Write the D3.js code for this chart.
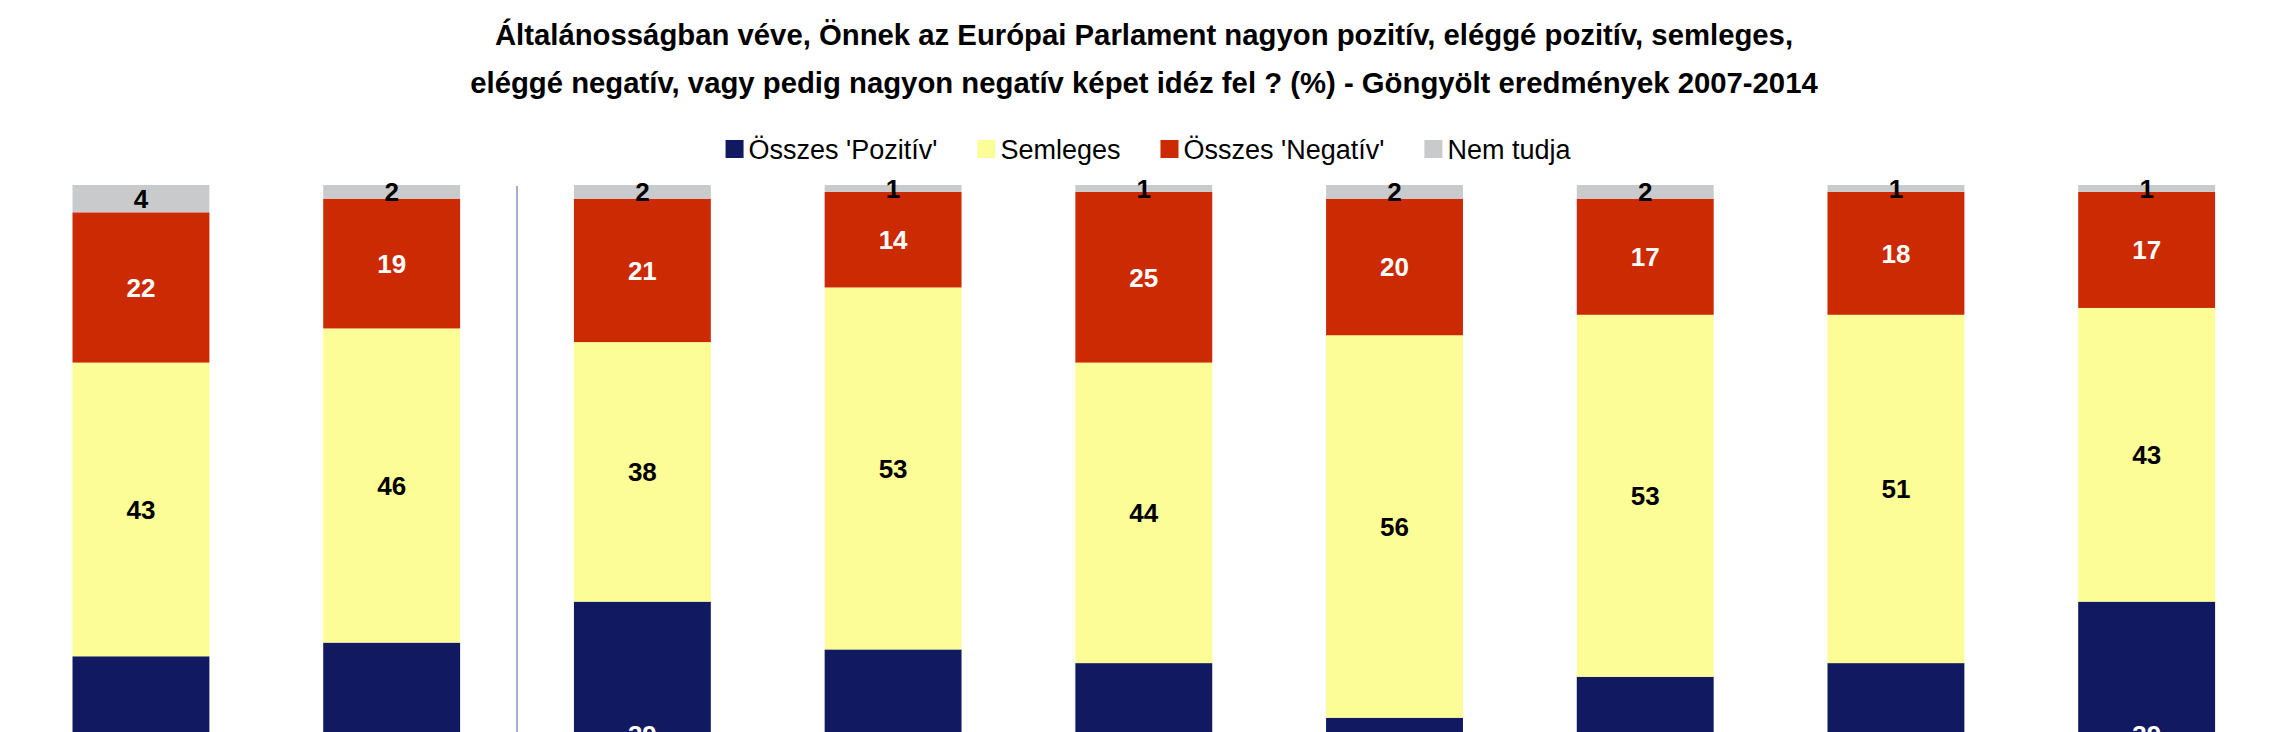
<!DOCTYPE html>
<html>
<head>
<meta charset="utf-8">
<script src="https://cdn.jsdelivr.net/npm/d3@7"></script>
<style>
  html, body { margin: 0; padding: 0; background: #ffffff; overflow: hidden; }
  svg { display: block; font-family: "Liberation Sans", Arial, sans-serif; }
</style>
</head>
<body>
<svg id="chart" width="2289" height="900"></svg>
<script>
// ---- Data ----
const titleLines = [
  "Általánosságban véve, Önnek az Európai Parlament nagyon pozitív, eléggé pozitív, semleges,",
  "eléggé negatív, vagy pedig nagyon negatív képet idéz fel ? (%) - Göngyölt eredmények 2007-2014"
];
const categories = ["c1", "c2", "c3", "c4", "c5", "c6", "c7", "c8", "c9"];
const seriesNames = ["Összes 'Pozitív'", "Semleges", "Összes 'Negatív'", "Nem tudja"];
const pozitiv  = [31, 33, 39, 32, 30, 22, 28, 30, 39];
const semleges = [43, 46, 38, 53, 44, 56, 53, 51, 43];
const negativ  = [22, 19, 21, 14, 25, 20, 17, 18, 17];
const nemTudja = [4, 2, 2, 1, 1, 2, 2, 1, 1];
const seriesColors = ["#111a60", "#fdfd97", "#cb2a03", "#c9cacc"];
const labelColors = ["#ffffff", "#000000", "#ffffff", "#000000"];
const dividerAfterIndex = 1;

// ---- Build table ----
const seriesValues = [pozitiv, semleges, negativ, nemTudja];
const keys = ["pozitiv", "semleges", "negativ", "nemtudja"];
const table = categories.map((c, i) => {
  const row = { cat: c };
  keys.forEach((k, j) => row[k] = seriesValues[j][i]);
  return row;
});

const svg = d3.select("#chart");

// ---- Scales ----
const x = d3.scaleBand().domain(categories).range([15.6, 2272]).paddingInner(0.454).paddingOuter(0.227);
const y = d3.scaleLinear().domain([0, 100]).range([868, 185]);
const color = d3.scaleOrdinal().domain(keys).range(seriesColors);
const lblColor = d3.scaleOrdinal().domain(keys).range(labelColors);

const stack = d3.stack().keys(keys);
const stacked = stack(table);

// ---- Title ----
const title = svg.append("g").attr("class", "title");
titleLines.forEach((t, i) => {
  title.append("text")
    .attr("x", 1144)
    .attr("y", 45 + i * 48)
    .attr("text-anchor", "middle")
    .attr("font-weight", "bold")
    .attr("font-size", 29.3)
    .attr("fill", "#000")
    .text(t);
});

// ---- Legend ----
const legend = svg.append("g").attr("class", "legend");
const legendY = 149;
const sq = 18;
let lx = 0;
const items = [];
seriesNames.forEach((name, i) => {
  const g = legend.append("g");
  g.append("rect").attr("x", 0).attr("y", legendY - sq / 2).attr("width", sq).attr("height", sq)
    .attr("fill", seriesColors[i]);
  const t = g.append("text").attr("x", sq + 5).attr("y", legendY + 9.5)
    .attr("font-size", 27).attr("fill", "#000").text(name);
  const w = sq + 5 + t.node().getComputedTextLength();
  items.push({ g, w });
});
const gap = 40;
const totalW = d3.sum(items, d => d.w) + gap * (items.length - 1);
lx = 1148 - totalW / 2;
items.forEach(it => { it.g.attr("transform", `translate(${lx},0)`); lx += it.w + gap; });

// ---- Divider ----
const divX = x(categories[dividerAfterIndex]) + x.bandwidth() + (x.step() - x.bandwidth()) / 2;
svg.append("line")
  .attr("x1", divX).attr("x2", divX)
  .attr("y1", y(100) + 1).attr("y2", y(0))
  .attr("stroke", "#8f8fc6").attr("stroke-width", 1.5);

// ---- Bars ----
const layers = svg.append("g").selectAll("g.layer")
  .data(stacked).join("g").attr("class", "layer")
  .attr("fill", d => color(d.key));

layers.selectAll("rect")
  .data(d => d)
  .join("rect")
  .attr("x", d => x(d.data.cat))
  .attr("width", x.bandwidth())
  .attr("y", d => y(d[1]))
  .attr("height", d => y(d[0]) - y(d[1]));

// ---- Value labels ----
const lbls = svg.append("g").selectAll("g.lbl")
  .data(stacked).join("g").attr("class", "lbl");
lbls.each(function(layer) {
  d3.select(this).selectAll("text")
    .data(layer)
    .join("text")
    .attr("x", d => x(d.data.cat) + x.bandwidth() / 2)
    .attr("y", d => (y(d[0]) + y(d[1])) / 2 + 9.5)
    .attr("text-anchor", "middle")
    .attr("font-weight", "bold")
    .attr("font-size", 26)
    .attr("fill", lblColor(layer.key))
    .text(d => d[1] - d[0]);
});
</script>
</body>
</html>
